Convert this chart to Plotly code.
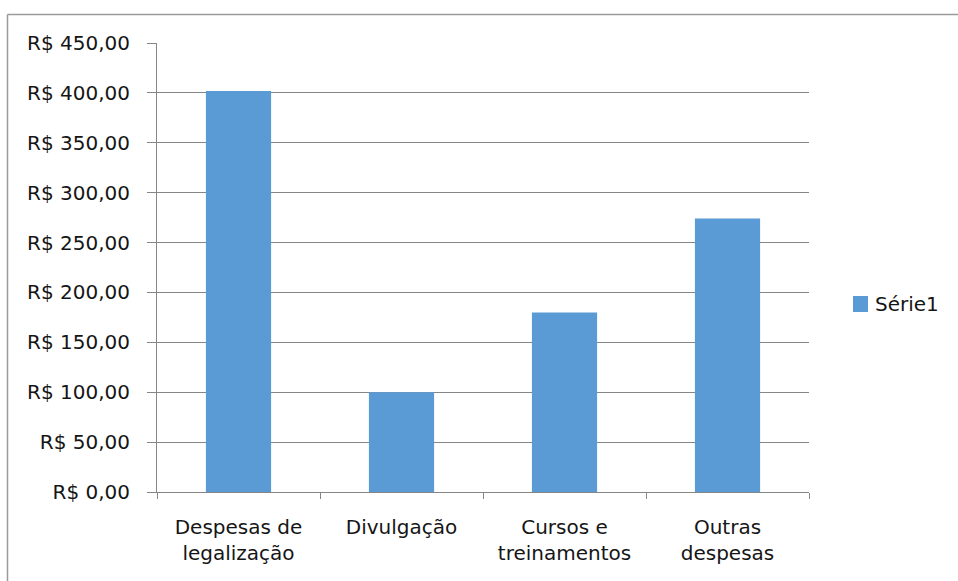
import plotly.graph_objects as go

# Expense categories and amounts (R$)
categories = ["Despesas de<br>legalização", "Divulgação", "Cursos e<br>treinamentos", "Outras<br>despesas"]
values = [402, 100, 180, 274]
series_name = "Série1"

tick_values = [0, 50, 100, 150, 200, 250, 300, 350, 400, 450]
tick_labels = ["R$ 0,00", "R$ 50,00", "R$ 100,00", "R$ 150,00", "R$ 200,00",
               "R$ 250,00", "R$ 300,00", "R$ 350,00", "R$ 400,00", "R$ 450,00"]

W, H = 958, 581
L, R, T, B = 157, 149, 43, 89
plot_w = W - L - R
plot_h = H - T - B


def px_x(px):
    return (px - L) / plot_w


def px_y(py):
    return (H - B - py) / plot_h


BAR_COLOR = "#5b9bd5"
GRID = "#868686"
TEXT = "#151515"
FONT = "DejaVu Sans"

fig = go.Figure()
fig.add_trace(go.Bar(
    x=categories, y=values, name=series_name,
    marker=dict(color=BAR_COLOR, line=dict(width=0)),
    showlegend=False,
))

# Legend key and label
fig.add_shape(type="rect", xref="paper", yref="paper",
              x0=px_x(853), x1=px_x(868), y0=px_y(312), y1=px_y(296),
              fillcolor=BAR_COLOR, line=dict(width=0))
fig.add_annotation(xref="paper", yref="paper", x=px_x(873), y=px_y(304),
                   text=series_name, showarrow=False, xanchor="left", yanchor="middle",
                   font=dict(family=FONT, size=20, color=TEXT))

# Chart border (top and left edges visible)
border = dict(color="#9a9a9a", width=1.5)
fig.add_shape(type="line", xref="paper", yref="paper",
              x0=px_x(7.5), x1=px_x(960), y0=px_y(14.5), y1=px_y(14.5), line=border)
fig.add_shape(type="line", xref="paper", yref="paper",
              x0=px_x(7.5), x1=px_x(7.5), y0=px_y(14.5), y1=px_y(590), line=border)

fig.update_layout(
    width=W, height=H,
    margin=dict(l=L, r=R, t=T, b=B, pad=0),
    paper_bgcolor="white", plot_bgcolor="white",
    bargap=0.6,
    font=dict(family=FONT, size=20, color=TEXT),
)
fig.update_xaxes(
    type="category", tickson="boundaries",
    ticks="outside", ticklen=6, tickcolor=GRID, tickwidth=1,
    showline=True, linecolor=GRID, linewidth=1,
    showgrid=False, ticklabelstandoff=17,
    tickfont=dict(family=FONT, size=20, color=TEXT),
)
fig.update_yaxes(
    range=[0, 450], tickvals=tick_values, ticktext=tick_labels,
    ticks="outside", ticklen=9, tickcolor=GRID, tickwidth=1,
    showline=True, linecolor=GRID, linewidth=1,
    showgrid=True, gridcolor=GRID, gridwidth=1,
    zeroline=False, ticklabelstandoff=13,
    tickfont=dict(family=FONT, size=20, color=TEXT),
)

fig.write_html("out.html")
